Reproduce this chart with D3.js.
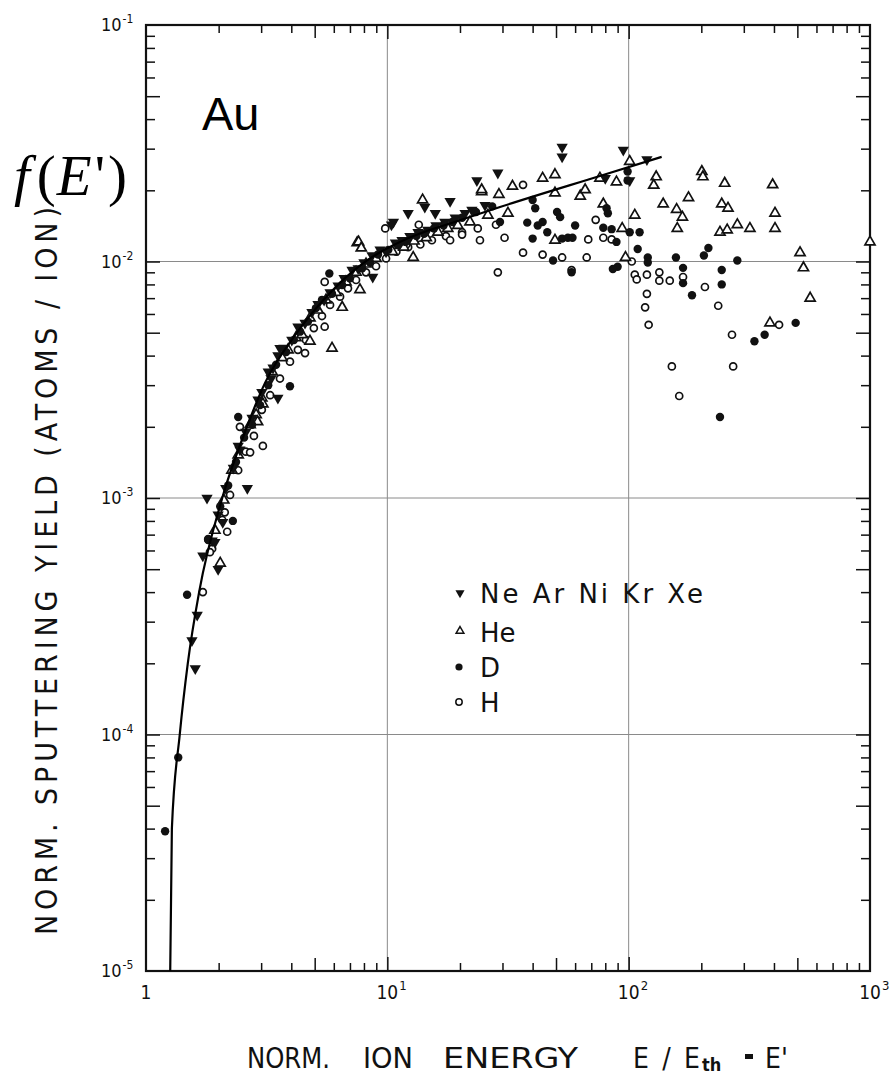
<!DOCTYPE html>
<html>
<head>
<meta charset="utf-8">
<script src="https://cdn.jsdelivr.net/npm/d3@7"></script>
<style>
  html, body { margin: 0; padding: 0; background: #fff; }
  svg { display: block; }
</style>
</head>
<body>
<div id="chart"></div>
<script>
// Normalised sputtering yield of Au vs normalised ion energy E' = E/E_th
// values: [E', yield]

// Ne Ar Ni Kr Xe (filled down triangles)
const heavyPts = [
  [1.88,6.6e-4],[1.99,8.5e-4],[2.14,1.10e-3],[2.30,1.34e-3],[2.45,1.60e-3],[2.59,1.90e-3],
  [2.75,2.18e-3],[2.91,2.6e-3],[3.02,2.8e-3],[3.21,3.42e-3],[3.36,3.55e-3],[3.52,4.0e-3],
  [3.73,4.31e-3],[4.02,4.66e-3],[4.26,5.3e-3],[4.56,5.5e-3],[4.87,6.1e-3],[5.16,6.6e-3],
  [5.47,6.87e-3],[5.79,7.4e-3],[6.25,7.9e-3],[6.62,8.5e-3],[7.14,9.2e-3],[7.57,9.35e-3],
  [8.0,9.9e-3],[8.64,1.06e-2],[9.33,1.12e-2],[9.88,1.10e-2],[10.8,1.20e-2],[11.5,1.23e-2],
  [12.4,1.28e-2],[13.4,1.33e-2],[14.7,1.36e-2],[15.9,1.42e-2],[17.3,1.47e-2],[19.1,1.53e-2],
  [21.0,1.6e-2],[22.4,1.65e-2],[25.4,1.73e-2],
  [1.79,1.0e-3],[2.63,1.1e-3],[1.99,5.0e-4],[1.63,3.2e-4],[1.55,2.5e-4],[1.60,1.9e-4],
  [1.93,6.5e-4],[2.08,7.9e-4],[1.72,5.7e-4],[2.41,1.66e-3],[3.52,2.65e-3],[3.59,4.3e-3],
  [8.7,8.6e-3],[10.6,1.47e-2],[12.2,1.6e-2],[14.3,1.7e-2],[15.8,1.6e-2],[18.2,1.8e-2],
  [23.5,2.2e-2],[28.7,2.37e-2],[53,3.05e-2],[53,2.77e-2],[95,2.96e-2],[119,2.7e-2],
  [80,2.25e-2],[101,2.2e-2],[10.4,1.43e-2],[3.3,3.2e-3]
];

// He (open triangles)
const hePts = [
  [1.93,7.3e-4],[2.10,9.8e-4],[2.27,1.31e-3],[2.41,1.52e-3],[2.70,2.04e-3],[2.86,2.25e-3],
  [3.02,2.65e-3],[3.33,3.42e-3],[3.66,3.92e-3],[3.88,4.23e-3],[4.18,4.76e-3],[4.43,4.9e-3],
  [4.78,5.77e-3],[5.16,6.23e-3],[5.57,6.87e-3],[6.13,7.4e-3],[6.74,8.2e-3],[7.42,9.0e-3],
  [8.16,9.75e-3],[8.98,1.03e-2],[10.5,1.10e-2],[11.7,1.15e-2],[12.9,1.22e-2],[14.5,1.26e-2],
  [16.2,1.33e-2],[17.8,1.38e-2],[19.6,1.42e-2],[22.0,1.47e-2],[26.1,1.57e-2],
  [6.5,6.4e-3],[7.7,7.6e-3],[7.5,1.2e-2],[4.78,4.6e-3],[3.05,2.5e-3],[2.9,2.1e-3],
  [5.9,4.3e-3],[7.6,1.21e-2],[7.8,1.14e-2],[12.8,1.04e-2],[14,1.82e-2],[24.6,1.97e-2],[2.03,5.3e-4],
  [44,0.0225],[49.5,0.0233],[33,0.0208],[63,0.0189],[66,0.0201],[76,0.0225],[89,0.0217],
  [29,0.0192],[31.6,0.016],[24.6,0.0201],[49.5,0.0195],[78.5,0.0175],[94,0.0138],
  [106,0.0157],[130,0.0228],[127,0.021],[139,0.0175],[158,0.0166],[167,0.0154],[159,0.0138],
  [177,0.0186],[201,0.024],[203,0.0228],[250,0.0214],[243,0.0175],[258,0.0168],[239,0.0133],
  [256,0.0136],[282,0.0143],[318,0.0138],[395,0.0211],[404,0.016],[404,0.0138],[513,0.0109],
  [530,0.0094],[565,0.0070],[385,0.0055],[1000,0.0121],[97,0.0104],[49.5,0.0123],[101,0.0265]
];

// D (filled circles)
const dPts = [
  [1.81,6.64e-4],[2.03,9.2e-4],[2.19,1.13e-3],[2.36,1.42e-3],[2.55,1.80e-3],[2.75,2.04e-3],
  [2.97,2.47e-3],[3.21,3.0e-3],[3.46,3.66e-3],[3.81,4.14e-3],[4.10,4.66e-3],[4.35,5.05e-3],
  [4.69,5.57e-3],[5.06,6.35e-3],[5.36,6.87e-3],[5.90,7.3e-3],[6.49,7.96e-3],[7.00,8.5e-3],
  [7.86,9.35e-3],[8.48,9.9e-3],[9.15,1.07e-2],[10.1,1.12e-2],[11.1,1.17e-2],[11.9,1.21e-2],
  [13.2,1.28e-2],[14.2,1.31e-2],[15.6,1.38e-2],[17.1,1.42e-2],[18.6,1.47e-2],[20.4,1.53e-2],
  [23.3,1.62e-2],[27.2,1.71e-2],
  [29.3,1.47e-2],[40,1.82e-2],[41,1.68e-2],[42,1.42e-2],[44,1.47e-2],[46,1.33e-2],
  [50.5,1.62e-2],[52,1.54e-2],[53,1.25e-2],[56,1.26e-2],[58.5,1.26e-2],[60,1.42e-2],
  [40,1.25e-2],[38,1.46e-2],[48.6,1.01e-2],[81,1.68e-2],[82,1.6e-2],[78.5,1.39e-2],
  [85,1.37e-2],[89,1.21e-2],[90,9.5e-3],[86,9.3e-3],[101,1.33e-2],[111,1.33e-2],
  [58,0.009],[109,0.0113],[120,0.0104],[120,0.0099],[157,0.0104],[168,0.0094],[168,0.0081],
  [183,0.0072],[205,0.0106],[214,0.0114],[243,0.0092],[243,0.008],[282,0.0101],[332,0.0046],
  [366,0.0049],[492,0.0055],[239,0.0022],[99,0.022],[99,0.024],
  [1.48,3.9e-4],[1.2,3.9e-5],[1.36,8.0e-5],[2.29,8.0e-4],[5.75,8.9e-3],[3.95,2.97e-3],[2.41,2.2e-3]
];

// H (open circles)
const hPts = [
  [1.88,6.1e-4],[2.07,8.07e-4],[2.23,1.03e-3],[2.41,1.31e-3],[2.59,1.57e-3],[2.80,1.83e-3],
  [3.02,2.36e-3],[3.27,2.72e-3],[3.59,3.2e-3],[3.95,3.77e-3],[4.26,4.23e-3],[4.60,4.66e-3],
  [4.96,5.23e-3],[5.36,5.88e-3],[5.79,6.55e-3],[6.37,7.1e-3],[6.87,7.7e-3],[7.42,8.35e-3],
  [8.16,9.0e-3],[8.98,9.55e-3],[9.88,1.03e-2],[10.9,1.10e-2],[12.2,1.15e-2],[13.7,1.18e-2],
  [15.3,1.23e-2],[17.5,1.28e-2],[20.4,1.33e-2],[23.7,1.38e-2],[28.2,1.43e-2],
  [18.2,0.0123],[20.4,0.013],[24.2,0.0123],[30.6,0.0126],[28.7,0.009],[36.5,0.0109],
  [36.5,0.0211],[44,0.0107],[53,0.0104],[58,0.0092],[67,0.0104],[68,0.0124],[73,0.015],
  [78.5,0.0126],[85,0.0124],[103,0.01],[106,0.0088],[108,0.0084],[119,0.0073],[117,0.0064],
  [121,0.0054],[119,0.0088],[134,0.009],[134,0.0083],[148,0.0083],[168,0.0086],[207,0.0078],
  [235,0.0065],[268,0.0049],[151,0.0036],[162,0.0027],[271,0.0036],[420,0.0054],[9.8,0.0138],
  [3.05,1.66e-3],[2.7,1.56e-3],[2.45,2.0e-3],[5.5,8.2e-3],[5.5,5.3e-3],[4.56,4.1e-3],
  [2.17,7.2e-4],[2.12,8.7e-4],[1.81,6.7e-4],[1.72,4.0e-4],[1.84,5.9e-4],[13.5,0.0143],[12,0.0118]
];

// fitted curve, points
const curveE = [1.26, 1.28, 1.38, 1.49, 1.66, 2.07, 2.62, 3.11, 4.22, 5.96, 8.24, 12.1, 19.4, 29.3, 76, 137];
const curveY = [1e-5, 4.0e-5, 1e-4, 2.0e-4, 4.0e-4, 1e-3, 2.0e-3, 3.06e-3, 5.0e-3, 7.6e-3, 1.01e-2, 1.25e-2, 1.48e-2, 1.70e-2, 2.30e-2, 2.77e-2];

const xDecades = [1, 10, 100, 1000];
const xDecadeLabels = [["1", ""], ["10", "1"], ["10", "2"], ["10", "3"]];
const yDecades = [1e-1, 1e-2, 1e-3, 1e-4, 1e-5];
const yDecadeLabels = ["-1", "-2", "-3", "-4", "-5"];
const legendItems = ["Ne  Ar  Ni  Kr  Xe", "He", "D", "H"];

const W = 894, H = 1077;
const P = {l: 146, r: 870, t: 25, b: 971};
const TICK_FONT = "'DejaVu Sans Condensed', 'DejaVu Sans', sans-serif";

const svg = d3.select('#chart').append('svg').attr('width', W).attr('height', H);

const x = d3.scaleLog().domain([1, 1000]).range([P.l, P.r]);
const y = d3.scaleLog().domain([1e-5, 1e-1]).range([P.b, P.t]);

// minor tick values per axis
const xMinor = [], xMid = [];
[1, 10, 100].forEach(d => [2,3,4,6,7,8,9].forEach(k => xMinor.push(d * k)));
[1, 10, 100].forEach(d => xMid.push(d * 5));
const yMinor = [], yMid = [];
[1e-5, 1e-4, 1e-3, 1e-2].forEach(d => [2,3,4,6,7,8,9].forEach(k => yMinor.push(d * k)));
[1e-5, 1e-4, 1e-3, 1e-2].forEach(d => yMid.push(d * 5));

// grid
const grid = svg.append('g').attr('stroke', '#8a8a8a').attr('stroke-width', 1);
[10, 100].forEach(v => grid.append('line')
  .attr('x1', x(v)).attr('x2', x(v)).attr('y1', P.t).attr('y2', P.b));
[1e-4, 1e-3, 1e-2].forEach(v => grid.append('line')
  .attr('x1', P.l).attr('x2', P.r).attr('y1', y(v)).attr('y2', y(v)));

// ticks pointing inside on all four sides
function ticks(axisFn, scale, vals, size, transform) {
  const g = svg.append('g').attr('transform', transform)
    .call(axisFn(scale).tickValues(vals).tickSize(-size).tickFormat(''));
  g.select('.domain').remove();
  g.selectAll('line').attr('stroke', '#111').attr('stroke-width', 1.5);
}
ticks(d3.axisBottom, x, xMinor, 8, `translate(0,${P.b})`);
ticks(d3.axisBottom, x, xMid, 13, `translate(0,${P.b})`);
ticks(d3.axisBottom, x, [10, 100], 14, `translate(0,${P.b})`);
ticks(d3.axisTop, x, xMinor, 8, `translate(0,${P.t})`);
ticks(d3.axisTop, x, xMid, 13, `translate(0,${P.t})`);
ticks(d3.axisTop, x, [10, 100], 14, `translate(0,${P.t})`);
ticks(d3.axisLeft, y, yMinor, 9, `translate(${P.l},0)`);
ticks(d3.axisLeft, y, yMid, 14, `translate(${P.l},0)`);
ticks(d3.axisLeft, y, [1e-4, 1e-3, 1e-2], 14, `translate(${P.l},0)`);
ticks(d3.axisRight, y, yMinor, 9, `translate(${P.r},0)`);
ticks(d3.axisRight, y, yMid, 14, `translate(${P.r},0)`);
ticks(d3.axisRight, y, [1e-4, 1e-3, 1e-2], 14, `translate(${P.r},0)`);

// frame
svg.append('rect')
  .attr('x', P.l).attr('y', P.t).attr('width', P.r - P.l).attr('height', P.b - P.t)
  .attr('fill', 'none').attr('stroke', '#111').attr('stroke-width', 2.2);

// tick labels
const yl = svg.append('g').attr('font-family', TICK_FONT).attr('fill', '#111');
yDecades.forEach((v, i) => {
  const t = yl.append('text').attr('x', 101).attr('y', y(v) + 6).attr('font-size', 18);
  t.append('tspan').text('10');
  t.append('tspan').attr('font-size', 12).attr('dy', -8).attr('dx', 1).text(yDecadeLabels[i]);
});
const xl = svg.append('g').attr('font-family', TICK_FONT).attr('fill', '#111');
xDecades.forEach((v, i) => {
  const [base, sup] = xDecadeLabels[i];
  xl.append('text').attr('x', x(v)).attr('y', 999).attr('font-size', 19)
    .attr('text-anchor', 'middle').text(base);
  if (sup) xl.append('text').attr('x', x(v) + 12).attr('y', 990).attr('font-size', 13).text(sup);
});

// axis titles
svg.append('text')
  .attr('transform', 'translate(57,935) rotate(-90)')
  .attr('font-family', TICK_FONT).attr('font-size', 30).attr('fill', '#111')
  .attr('textLength', 728).attr('lengthAdjust', 'spacing')
  .text('NORM. SPUTTERING YIELD (ATOMS / ION)');

const xt = svg.append('g').attr('font-family', TICK_FONT).attr('font-size', 28).attr('fill', '#111');
xt.append('text').attr('x', 247).attr('y', 1068).attr('textLength', 83).attr('lengthAdjust', 'spacingAndGlyphs').text('NORM.');
xt.append('text').attr('x', 363).attr('y', 1068).attr('textLength', 50).attr('lengthAdjust', 'spacingAndGlyphs').text('ION');
xt.append('text').attr('x', 443).attr('y', 1068).attr('textLength', 135).attr('lengthAdjust', 'spacingAndGlyphs').text('ENERGY');
xt.append('text').attr('x', 633).attr('y', 1068).attr('textLength', 67).attr('lengthAdjust', 'spacing').text('E / E');
xt.append('text').attr('x', 702).attr('y', 1071).attr('font-size', 18).attr('font-weight', 'bold').text('th');
xt.append('rect').attr('x', 745).attr('y', 1054).attr('width', 8).attr('height', 5);
xt.append('text').attr('x', 765).attr('y', 1068).text("E'");

// annotations
svg.append('text').attr('x', 202).attr('y', 130)
  .attr('font-family', "'Liberation Sans', Arial, sans-serif").attr('font-size', 47)
  .attr('fill', '#000').text('Au');
const fe = svg.append('text').attr('x', 14).attr('y', 195)
  .attr('font-family', "'Liberation Serif', 'Times New Roman', serif").attr('font-size', 57).attr('fill', '#000');
fe.append('tspan').attr('font-style', 'italic').text('f');
fe.append('tspan').attr('dx', 7).text('(');
fe.append('tspan').attr('dx', 1).attr('font-style', 'italic').text('E');
fe.append('tspan').attr('dx', 3).text("'");
fe.append('tspan').attr('dx', 3).text(")");

// data marks
const plot = svg.append('g');
const sym = (type, size) => d3.symbol().type(type).size(size)();

plot.selectAll('.h').data(hPts).join('circle').attr('class', 'h')
  .attr('cx', d => x(d[0])).attr('cy', d => y(d[1])).attr('r', 3.5)
  .attr('fill', '#fff').attr('stroke', '#111').attr('stroke-width', 1.7);

plot.selectAll('.he').data(hePts).join('path').attr('class', 'he')
  .attr('d', sym(d3.symbolTriangle, 44))
  .attr('transform', d => `translate(${x(d[0])},${y(d[1])})`)
  .attr('fill', '#fff').attr('stroke', '#111').attr('stroke-width', 1.7);

plot.selectAll('.dd').data(dPts).join('circle').attr('class', 'dd')
  .attr('cx', d => x(d[0])).attr('cy', d => y(d[1])).attr('r', 4.2)
  .attr('fill', '#111');

plot.selectAll('.hv').data(heavyPts).join('path').attr('class', 'hv')
  .attr('d', sym(d3.symbolTriangle, 55))
  .attr('transform', d => `translate(${x(d[0])},${y(d[1])}) rotate(180)`)
  .attr('fill', '#111');

// fit curve
const line = d3.line().x(d => x(d[0])).y(d => y(d[1])).curve(d3.curveMonotoneX);
svg.append('path').datum(curveE.map((e, i) => [e, curveY[i]]))
  .attr('d', line).attr('fill', 'none').attr('stroke', '#000').attr('stroke-width', 2.2);

// legend
const lg = svg.append('g').attr('font-family', "'DejaVu Sans', sans-serif").attr('font-size', 26).attr('fill', '#111');
const rows = [603, 642, 677, 712];
lg.append('path').attr('d', sym(d3.symbolTriangle, 36)).attr('transform', `translate(460,${rows[0] - 10}) rotate(180)`).attr('fill', '#111');
lg.append('path').attr('d', sym(d3.symbolTriangle, 26)).attr('transform', `translate(460,${rows[1] - 11})`).attr('fill', '#fff').attr('stroke', '#111').attr('stroke-width', 1.5);
lg.append('circle').attr('cx', 459).attr('cy', rows[2] - 10).attr('r', 3.6).attr('fill', '#111');
lg.append('circle').attr('cx', 459).attr('cy', rows[3] - 10).attr('r', 3.2).attr('fill', '#fff').attr('stroke', '#111').attr('stroke-width', 1.5);
legendItems.forEach((t, i) => {
  const el = lg.append('text').attr('x', 480).attr('y', rows[i]).text(t);
  if (i === 0) el.attr('textLength', 223).attr('lengthAdjust', 'spacing');
});
</script>
</body>
</html>
